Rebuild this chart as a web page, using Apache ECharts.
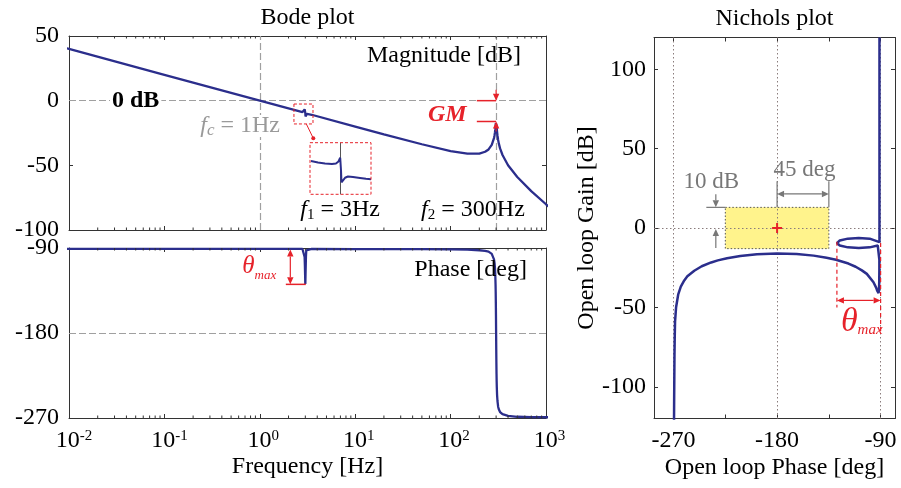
<!DOCTYPE html>
<html><head><meta charset="utf-8">
<script src="https://cdn.jsdelivr.net/npm/echarts@6/dist/echarts.min.js"></script>
<style>html,body{margin:0;padding:0;background:#fff}#c{width:901px;height:488px}</style>
</head><body><div id="c"></div>
<script>
// ---------------- data ----------------
const freqHz = [1e-6, 1e-3, 0.01, 0.1, 1, 2, 2.8, 2.9, 2.95, 2.97, 2.985, 2.995, 3.0, 3.005, 3.015, 3.03, 3.045, 3.07, 3.12, 3.5,
  10, 20, 50, 100, 150, 200, 230, 250, 270, 285, 289, 292, 294, 296, 297, 298, 299, 300, 301, 302, 303, 304, 305, 307, 310,
  315, 320, 330, 350, 400, 500, 700, 1000, 3000, 5000];
const magDb = [120, 60, 40, 20, 0, -6.0, -8.9, -7.9, -6.7, -6.3, -6.7, -7.9, -9.5, -11.0, -12.2, -12.6, -12.2, -11.0, -10.2, -10.9,
  -20, -26, -33.7, -39.0, -41.0, -40.9, -39.5, -37.7, -34.2, -28.9, -26.7, -24.4, -22.4, -20.0, -18.7, -17.4, -16.4, -16.1, -16.5, -17.6, -19.0, -20.4, -21.7, -24.1, -26.9,
  -30.4, -33.0, -36.9, -42.0, -49.9, -59.0, -69.9, -80.1, -109.4, -122.9];
const phaseDeg = [-91, -91, -91, -91, -91, -91, -91, -92.5, -99.5, -109, -118.5, -125.5, -128, -125.5, -118.5, -109, -99.5, -92.5, -91, -91,
  -91.1, -91.1, -91.2, -91.4, -91.8, -92.4, -93.0, -93.8, -96.2, -102, -106.3, -111.7, -118, -128.8, -137, -148.2, -163, -180, -197.5, -212, -223.5, -231.5, -237.3, -245.5, -252,
  -258, -260.7, -263.7, -266, -267.8, -268.7, -269, -269.2, -269.5, -269.6];
// zoomed inset of the 3 Hz feature
const insetFreq = [2.516, 2.631, 2.746, 2.861, 2.926, 2.967, 2.995, 3.008, 3.016, 3.041, 3.074, 3.123, 3.205, 3.32, 3.418, 3.5];
const insetMag = [-8.26, -8.6, -8.84, -8.95, -8.84, -8.37, -7.5, -10.35, -13.2, -12.8, -12.16, -11.86, -11.98, -12.2, -12.4, -12.5];
// ticks
const minorTickHz = [];
for (const d of [0.01, 0.1, 1, 10, 100]) for (let k = 2; k <= 9; k++) minorTickHz.push(+(d * k).toPrecision(3));
const nicholsXTicks = [-270, -225, -180, -135, -90];
const nicholsXLabels = [-270, -180, -90];
const nicholsYTicks = [-100, -50, 0, 50, 100];

// ---------------- build ----------------
const FF = '"Liberation Serif", "Times New Roman", serif';
const BLUE = '#2b2e8c';
const RED = '#e6222a';
const AX = { color: '#333', width: 1 };
const FS = 24;

const magData = freqHz.map((f, i) => [f, magDb[i]]);
const phaseData = freqHz.map((f, i) => [f, phaseDeg[i]]);
const nicholsData = freqHz.map((f, i) => [phaseDeg[i], magDb[i]]);
const insetData = insetFreq.map((f, i) => [f, insetMag[i]]);

const chart = echarts.init(document.getElementById('c'), null, { renderer: 'canvas' });

function xLog(grid, pos, withLabels) {
  const ax = {
    type: 'log', logBase: 10, gridIndex: grid, position: pos, min: 0.01, max: 1000,
    axisLine: { show: true, onZero: false, lineStyle: AX },
    axisTick: { show: true, inside: true, length: 4, lineStyle: AX },
    axisLabel: { show: false }, splitLine: { show: false }, minorTick: { show: false }
  };
  if (withLabels) {
    ax.axisLabel = {
      show: true, margin: 11,
      formatter: v => { const e = String(Math.round(Math.log10(v))); return '{sp' + e.length + '| }{b|10}{e|' + e + '}'; },
      rich: {
        b: { fontSize: FS, fontFamily: FF, color: '#000' },
        e: { fontSize: 15, fontFamily: FF, color: '#000', verticalAlign: 'top' },
        sp1: { width: 7 }, sp2: { width: 10 }
      }
    };
    ax.name = 'Frequency [Hz]';
    ax.nameLocation = 'middle';
    ax.nameGap = 37;
    ax.nameMoveOverlap = false;
    ax.nameTextStyle = { fontSize: FS, fontFamily: FF, color: '#000' };
  }
  return ax;
}
function yVal(grid, pos, min, max, interval, withLabels) {
  return {
    type: 'value', gridIndex: grid, position: pos, min, max, interval,
    axisLine: { show: true, onZero: false, lineStyle: AX },
    axisTick: { show: true, inside: true, length: 4, lineStyle: AX },
    axisLabel: withLabels ? { show: true, margin: 10, fontSize: FS, fontFamily: FF, color: '#000' } : { show: false },
    splitLine: { show: false }
  };
}
function minorTicks(xi, yi, yref) {
  return {
    type: 'custom', xAxisIndex: xi, yAxisIndex: yi, silent: true, z: 4, clip: false,
    data: minorTickHz.map(v => [v, yref]), encode: { x: 0, y: 1 },
    renderItem: (params, api) => {
      const x = api.coord([api.value(0), api.value(1)])[0];
      const cs = params.coordSys;
      return { type: 'group', children: [
        { type: 'line', shape: { x1: x, y1: cs.y + cs.height, x2: x, y2: cs.y + cs.height - 2.5 }, style: { stroke: '#333', lineWidth: 1 } },
        { type: 'line', shape: { x1: x, y1: cs.y, x2: x, y2: cs.y + 2.5 }, style: { stroke: '#333', lineWidth: 1 } }
      ] };
    }
  };
}

const nichX = (pos, labels) => ({
  type: 'value', gridIndex: 2, position: pos, min: -287, max: -77.5,
  axisLine: { show: true, onZero: false, lineStyle: AX },
  axisTick: { show: true, inside: true, length: 4, lineStyle: AX, customValues: nicholsXTicks },
  axisLabel: labels ? { show: true, margin: 10, fontSize: FS, fontFamily: FF, color: '#000', customValues: nicholsXLabels } : { show: false },
  splitLine: { show: false },
  name: labels ? 'Open loop Phase [deg]' : '', nameLocation: 'middle', nameGap: 37, nameMoveOverlap: false,
  nameTextStyle: { fontSize: FS, fontFamily: FF, color: '#000' }
});
const nichY = (pos, labels) => ({
  type: 'value', gridIndex: 2, position: pos, min: -120, max: 120,
  axisLine: { show: true, onZero: false, lineStyle: AX },
  axisTick: { show: true, inside: true, length: 4, lineStyle: AX, customValues: nicholsYTicks },
  axisLabel: labels ? { show: true, margin: 8, fontSize: FS, fontFamily: FF, color: '#000', customValues: nicholsYTicks } : { show: false },
  splitLine: { show: false },
  name: labels ? 'Open loop Gain [dB]' : '', nameLocation: 'middle', nameGap: 55, nameRotate: 90, nameMoveOverlap: false,
  nameTextStyle: { fontSize: FS, fontFamily: FF, color: '#000' }
});

const option = {
  animation: false,
  backgroundColor: '#fff',
  grid: [
    { left: 69, top: 36, width: 477, height: 194, containLabel: false, outerBoundsMode: 'none' },
    { left: 69, top: 248, width: 477, height: 170, containLabel: false, outerBoundsMode: 'none' },
    { left: 654, top: 37.5, width: 241, height: 381, containLabel: false, outerBoundsMode: 'none' },
    { left: 310, top: 142.7, width: 61, height: 51.6, containLabel: false, outerBoundsMode: 'none' }
  ],
  xAxis: [
    xLog(0, 'bottom', false), xLog(0, 'top', false),
    xLog(1, 'bottom', true), xLog(1, 'top', false),
    nichX('bottom', true), nichX('top', false),
    { type: 'value', gridIndex: 3, min: 2.5, max: 3.5, show: false }
  ],
  yAxis: [
    yVal(0, 'left', -100, 50, 50, true), yVal(0, 'right', -100, 50, 50, false),
    yVal(1, 'left', -270, -90, 90, true), yVal(1, 'right', -270, -90, 90, false),
    nichY('left', true), nichY('right', false),
    { type: 'value', gridIndex: 3, min: -16, max: -4, show: false }
  ],
  series: [
    { type: 'line', name: 'Magnitude', xAxisIndex: 0, yAxisIndex: 0, data: magData, symbol: 'none', showSymbol: false,
      lineStyle: { color: BLUE, width: 2.3 }, z: 3, clip: true,
      markLine: { silent: true, symbol: 'none', z: 2, label: { show: false }, animation: false,
        lineStyle: { color: '#a0a0a0', width: 1.2, type: [7, 3] },
        data: [{ yAxis: 0 }, { xAxis: 1 }, { xAxis: 300 }] } },
    { type: 'line', name: 'Phase', xAxisIndex: 2, yAxisIndex: 2, data: phaseData, symbol: 'none', showSymbol: false,
      lineStyle: { color: BLUE, width: 2.3 }, z: 3, clip: true,
      markLine: { silent: true, symbol: 'none', z: 2, label: { show: false }, animation: false,
        lineStyle: { color: '#a0a0a0', width: 1.2, type: [7, 3] },
        data: [{ yAxis: -180 }] } },
    { type: 'line', name: 'Nichols', xAxisIndex: 4, yAxisIndex: 4, data: nicholsData, symbol: 'none', showSymbol: false,
      lineStyle: { color: BLUE, width: 2.5 }, z: 3, clip: true,
      markLine: { silent: true, symbol: 'none', z: 2, label: { show: false }, animation: false,
        lineStyle: { color: '#8a7c7c', width: 1, type: [1.5, 2.5] },
        data: [{ xAxis: -270 }, { xAxis: -180 }, { xAxis: -90 }, { yAxis: 0 }] },
      markArea: { silent: true, z: 1, label: { show: false },
        itemStyle: { color: '#fff38c', borderColor: '#555', borderWidth: 1, borderType: [1.5, 2] },
        data: [[{ xAxis: -225, yAxis: 13 }, { xAxis: -135, yAxis: -13 }]] } },
    { type: 'line', name: 'Inset', xAxisIndex: 6, yAxisIndex: 6, data: insetData, symbol: 'none', showSymbol: false,
      lineStyle: { color: BLUE, width: 2 }, z: 3, clip: true,
      markLine: { silent: true, symbol: 'none', z: 2, label: { show: false }, animation: false,
        lineStyle: { color: '#555', width: 1, type: 'solid' }, data: [{ xAxis: 3 }] } },
    minorTicks(0, 0, 0), minorTicks(2, 2, -180)
  ]
};
chart.setOption(option);

// ---------------- annotations ----------------
const G = [];
const mctx = document.createElement('canvas').getContext('2d');
function tw(s, font) { mctx.font = font; return mctx.measureText(s).width; }
function P(g, x, y) { return chart.convertToPixel({ gridIndex: g }, [x, y]); }
function line(x1, y1, x2, y2, color, w, dash) {
  G.push({ type: 'line', z: 10, silent: true, shape: { x1, y1, x2, y2 },
    style: { stroke: color, lineWidth: w || 1.2, lineDash: dash || null } });
}
function rect(x1, y1, x2, y2, stroke, dash, fill, z) {
  G.push({ type: 'rect', z: z || 10, silent: true,
    shape: { x: Math.min(x1, x2), y: Math.min(y1, y2), width: Math.abs(x2 - x1), height: Math.abs(y2 - y1) },
    style: { stroke: stroke || null, lineWidth: 1, lineDash: dash || null, fill: fill || null } });
}
function head(xt, yt, xf, yf, color, hl, hw) {
  hl = hl || 7; hw = hw || 3.2;
  const dx = xt - xf, dy = yt - yf, L = Math.hypot(dx, dy), ux = dx / L, uy = dy / L;
  const bx = xt - ux * hl, by = yt - uy * hl;
  G.push({ type: 'polygon', z: 10, silent: true,
    shape: { points: [[xt, yt], [bx - uy * hw, by + ux * hw], [bx + uy * hw, by - ux * hw]] }, style: { fill: color } });
  return [bx, by];
}
function arrow(x1, y1, x2, y2, color, both) {
  let s = [x1, y1];
  const e = head(x2, y2, x1, y1, color);
  if (both) s = head(x1, y1, x2, y2, color);
  line(s[0], s[1], e[0], e[1], color, 1.2);
}
function textRun(tokens, x, y, align, color, bg) {
  const ws = tokens.map(t => tw(t[0], t[1]));
  const total = ws.reduce((a, b) => a + b, 0);
  let cx = align === 'left' ? x : align === 'right' ? x - total : x - total / 2;
  if (bg) rect(cx - 2, y - 11, cx + total + 2, y + 11, null, null, '#fff', 9);
  tokens.forEach((t, i) => {
    G.push({ type: 'text', z: 11, silent: true, x: cx, y: y + (t[2] || 0),
      style: { text: t[0], font: t[1], fill: color, align: 'left', verticalAlign: 'middle', textAlign: 'left', textVerticalAlign: 'middle' } });
    cx += ws[i];
  });
}
const F = (s, st) => (st ? st + ' ' : '') + s + 'px "Liberation Serif"';

// titles
textRun([['Bode plot', F(FS)]], 307.5, 18, 'center', '#000');
textRun([['Nichols plot', F(FS)]], 774.5, 19, 'center', '#000');

// magnitude panel
const y0 = P(0, 1, 0)[1];
const x300 = P(0, 300, 0)[0];
const yPk = P(0, 300, -16.1)[1];
const x3 = P(0, 3, 0)[0];
textRun([['Magnitude [dB]', F(FS)]], 521, 56, 'right', '#000');
textRun([['0 dB', F(FS, 'bold')]], P(0, 0.05, 0)[0], y0, 'center', '#000', true);
textRun([['f', F(FS, 'italic')], ['c', F(17, 'italic'), 5], [' = 1Hz', F(FS)]], 280, 126, 'right', '#9a9a9a', true);
textRun([['f', F(FS, 'italic')], ['1', F(15), 5], [' = 3Hz', F(FS)]], x3 - 5, 210, 'left', '#000');
textRun([['f', F(FS, 'italic')], ['2', F(15), 5], [' = 300Hz', F(FS)]], x300 - 75, 210, 'left', '#000');
// zoom boxes
const b1 = P(0, 2.28, -2.6), b2 = P(0, 3.61, -18);
rect(b1[0], b1[1], b2[0], b2[1], RED, [3, 2]);
const i1 = P(3, 2.5, -4), i2 = P(3, 3.5, -16);
rect(i1[0], i1[1], i2[0], i2[1], RED, [3, 2]);
const cs0 = [b1[0] + 0.65 * (b2[0] - b1[0]), b2[1]], ce0 = [i1[0] + 3.3, i1[1] - 4.4];
line(cs0[0], cs0[1], ce0[0], ce0[1], RED, 1);
G.push({ type: 'circle', z: 10, silent: true, shape: { cx: ce0[0], cy: ce0[1], r: 2 }, style: { fill: RED } });
// gain margin
line(x300 - 19.3, y0, x300, y0, RED, 1.5);
line(x300 - 19.3, yPk, x300, yPk, RED, 1.5);
arrow(x300, y0 - 11, x300, y0, RED);
arrow(x300, yPk + 10, x300, yPk, RED);
textRun([['GM', F(FS, 'italic bold')]], x300 - 29.5, yPk - 6.5, 'right', RED);

// phase panel
textRun([['Phase [deg]', F(FS)]], 527, 270, 'right', '#000');
const xp3 = P(1, 3, -91)[0], yT = P(1, 3, -91)[1], yB = P(1, 3, -128.5)[1];
arrow(xp3 - 15, yT + 0.5, xp3 - 15, yB, RED, true);
line(xp3 - 19.5, yB, xp3 + 0.5, yB, RED, 1.5);
textRun([['\u03b8', F(25, 'italic')], ['max', F(13, 'italic'), 9]], xp3 - 63, (yT + yB) / 2, 'left', RED);

// Nichols panel
const nx = p => P(2, p, 0)[0];
const ny = g => P(2, -180, g)[1];
const c0 = P(2, -180, 0);
line(c0[0] - 5, c0[1], c0[0] + 5, c0[1], RED, 2);
line(c0[0], c0[1] - 5, c0[0], c0[1] + 5, RED, 2);
const xr = nx(-225), yt13 = ny(13), yz = ny(0);
line(xr - 19, yt13, xr, yt13, '#777', 1.2);
arrow(xr - 9.5, yt13 - 13, xr - 9.5, yt13, '#777');
arrow(xr - 9.5, yz + 20, xr - 9.5, yz + 1, '#777');
textRun([['10 dB', F(23)]], xr - 14, yt13 - 25, 'center', '#777');
const x180 = nx(-180), x135 = nx(-135);
line(x180, yt13 - 26, x180, yt13, '#777', 1.2);
line(x135, yt13 - 26, x135, yt13, '#777', 1.2);
arrow(x180, yt13 - 13.4, x135, yt13 - 13.4, '#777', true);
textRun([['45 deg', F(23)]], x180 + 27.5, yt13 - 37.7, 'center', '#777');
const x128 = nx(-128), x90 = nx(-90);
line(x128, ny(-8.6), x128, ny(-50), RED, 1.2, [4, 3]);
line(x90, ny(-9.5), x90, ny(-66), RED, 1.2, [4, 3]);
arrow(x128, ny(-45.6), x90, ny(-45.6), RED, true);
textRun([['\u03b8', F(34, 'italic')], ['max', F(15, 'italic'), 8]], x128 + 4, ny(-59), 'left', RED);

chart.setOption({ graphic: { elements: G } });
</script>
</body></html>
